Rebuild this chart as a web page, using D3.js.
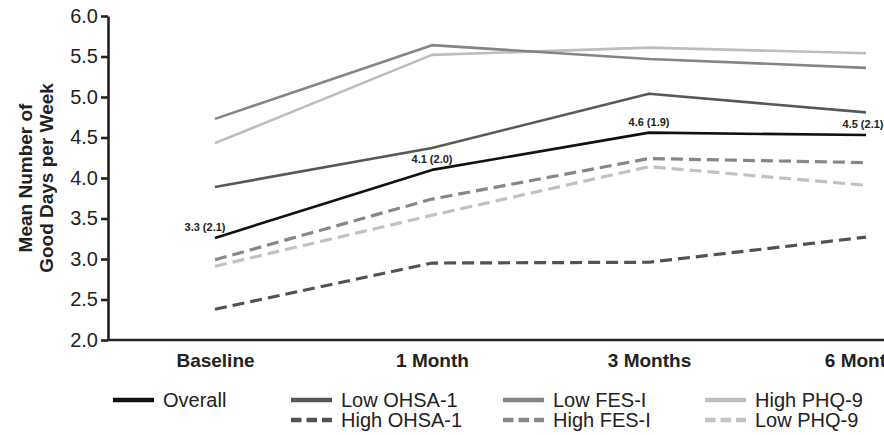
<!DOCTYPE html>
<html>
<head>
<meta charset="utf-8">
<script src="https://cdn.jsdelivr.net/npm/d3@7"></script>
<style>
  html, body { margin: 0; padding: 0; background: #fff; overflow: hidden; }
  svg { display: block; font-family: "Liberation Sans", Arial, sans-serif; }
</style>
</head>
<body>
<svg id="chart" width="884" height="435"></svg>
<script>
const categories = ["Baseline", "1 Month", "3 Months", "6 Months"];
const overall   = [3.26, 4.10, 4.56, 4.53];
const lowOHSA   = [3.89, 4.37, 5.04, 4.81];
const highOHSA  = [2.38, 2.95, 2.96, 3.27];
const lowFES    = [4.73, 5.64, 5.47, 5.36];
const highFES   = [2.99, 3.74, 4.24, 4.19];
const highPHQ   = [4.43, 5.52, 5.61, 5.54];
const lowPHQ    = [2.91, 3.54, 4.14, 3.91];
const overallLabels = ["3.3 (2.1)", "4.1 (2.0)", "4.6 (1.9)", "4.5 (2.1)"];
const yTicks = [2.0, 2.5, 3.0, 3.5, 4.0, 4.5, 5.0, 5.5, 6.0];

const series = [
  { name: "High PHQ-9",  values: highPHQ,  color: "#bdbdbd", dash: null },
  { name: "Low FES-I",   values: lowFES,   color: "#858585", dash: null },
  { name: "Low OHSA-1",  values: lowOHSA,  color: "#575757", dash: null },
  { name: "Low PHQ-9",   values: lowPHQ,   color: "#c2c2c2", dash: "12,6" },
  { name: "High FES-I",  values: highFES,  color: "#878787", dash: "12,6" },
  { name: "High OHSA-1", values: highOHSA, color: "#525252", dash: "12,6" },
  { name: "Overall",     values: overall,  color: "#111111", dash: null }
];

const svg = d3.select("#chart");
const x = d3.scalePoint().domain(categories).range([215, 866]);
const y = d3.scaleLinear().domain([2, 6]).range([340, 16]);

// axes
const yAxis = d3.axisLeft(y).tickValues(yTicks).tickFormat(d3.format(".1f")).tickSize(7).tickSizeOuter(0);
const gy = svg.append("g").attr("transform", "translate(108,0)").call(yAxis);
gy.select(".domain").attr("stroke", "#222").attr("stroke-width", 2.6);
gy.selectAll(".tick line").attr("stroke", "#222").attr("stroke-width", 2.6);
gy.selectAll(".tick text").attr("font-size", 20).attr("fill", "#222").attr("x", -10)
  .attr("font-family", "'Liberation Sans', Arial, sans-serif");

const xAxis = d3.axisBottom(x).tickSize(0).tickSizeOuter(0);
const gx = svg.append("g").attr("transform", "translate(0,340)").call(xAxis);
gx.select(".domain").attr("d", "M107,0H900").attr("stroke", "#222").attr("stroke-width", 2.6);
gx.selectAll(".tick text").attr("font-size", 19).attr("font-weight", "bold").attr("fill", "#222")
  .attr("dy", 0).attr("y", 27).attr("font-family", "'Liberation Sans', Arial, sans-serif");

// y-axis title
const title = svg.append("text")
  .attr("transform", "translate(0,178) rotate(-90)")
  .attr("text-anchor", "middle").attr("font-size", 19).attr("font-weight", "bold").attr("fill", "#222");
title.append("tspan").attr("x", 0).attr("y", 32).text("Mean Number of");
title.append("tspan").attr("x", 0).attr("y", 53).text("Good Days per Week");

// lines
const line = d3.line().x((d, i) => x(categories[i])).y(d => y(d));
svg.append("g").selectAll("path").data(series).join("path")
  .attr("d", d => line(d.values))
  .attr("fill", "none")
  .attr("stroke", d => d.color)
  .attr("stroke-width", d => d.dash ? 3.2 : 2.6)
  .attr("stroke-dasharray", d => d.dash)
  .attr("stroke-linejoin", "round");

// overall labels
const labelDx = [-10, 0, 0, -3];
svg.append("g").selectAll("text").data(overall).join("text")
  .attr("x", (d, i) => x(categories[i]) + labelDx[i])
  .attr("y", d => y(d) - 7)
  .attr("text-anchor", "middle").attr("font-size", 11).attr("font-weight", "bold").attr("fill", "#222")
  .text((d, i) => overallLabels[i]);

// legend
const legendItems = [
  { name: "Overall",     color: "#111111", dash: null,     col: 0, row: 0 },
  { name: "Low OHSA-1",  color: "#575757", dash: null,     col: 1, row: 0 },
  { name: "High OHSA-1", color: "#525252", dash: "10.5,5", col: 1, row: 1 },
  { name: "Low FES-I",   color: "#858585", dash: null,     col: 2, row: 0 },
  { name: "High FES-I",  color: "#878787", dash: "10.5,5", col: 2, row: 1 },
  { name: "High PHQ-9",  color: "#bdbdbd", dash: null,     col: 3, row: 0 },
  { name: "Low PHQ-9",   color: "#c2c2c2", dash: "10.5,5", col: 3, row: 1 }
];
const colX = [113, 291, 503, 705];
const rowY = [400, 420];
const lg = svg.append("g").selectAll("g").data(legendItems).join("g")
  .attr("transform", d => `translate(${colX[d.col]},${rowY[d.row]})`);
lg.append("line").attr("x1", 0).attr("x2", 41).attr("y1", 0).attr("y2", 0)
  .attr("stroke", d => d.color).attr("stroke-width", 4.5)
  .attr("stroke-dasharray", d => d.dash);
lg.append("text").attr("x", 50).attr("y", 0).attr("dy", "0.35em")
  .attr("font-size", 20).attr("fill", "#222").text(d => d.name);
</script>
</body>
</html>
